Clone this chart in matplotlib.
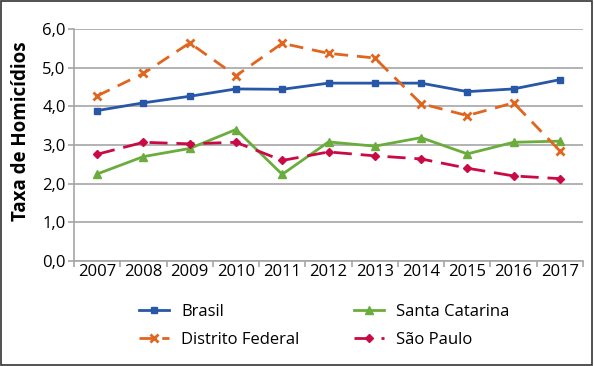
import matplotlib.pyplot as plt
from matplotlib.patches import Rectangle
from matplotlib.ticker import FuncFormatter

plt.rcParams['font.family'] = ['Open Sans', 'DejaVu Sans']

anos = ['2007', '2008', '2009', '2010', '2011', '2012',
        '2013', '2014', '2015', '2016', '2017']
brasil = [3.89, 4.09, 4.26, 4.45, 4.44, 4.60, 4.60, 4.60, 4.38, 4.45, 4.69]
distrito_federal = [4.27, 4.85, 5.64, 4.79, 5.63, 5.37, 5.25, 4.07, 3.76, 4.09, 2.85]
santa_catarina = [2.25, 2.70, 2.91, 3.40, 2.24, 3.08, 2.97, 3.19, 2.77, 3.07, 3.10]
sao_paulo = [2.76, 3.07, 3.03, 3.07, 2.60, 2.82, 2.72, 2.64, 2.40, 2.20, 2.13]

AZUL = '#2757a6'
LARANJA = '#e0661f'
VERDE = '#6aad3d'
VERMELHO = '#c90a45'
CINZA = '#a6a6a6'

fig = plt.figure(figsize=(5.94, 3.66), dpi=100)
ax = fig.add_axes([74 / 594, 1 - 261 / 366, 509 / 594, 232 / 366])

x = range(len(anos))
lw = 2.0
ax.plot(x, brasil, color=AZUL, lw=lw, marker='s', ms=5, label='Brasil')
ax.plot(x, santa_catarina, color=VERDE, lw=lw, marker='^', ms=5.5, label='Santa Catarina')
ax.plot(x, distrito_federal, color=LARANJA, lw=lw, marker='x', ms=6, mew=2,
        dashes=(5, 3.2), label='Distrito Federal')
ax.plot(x, sao_paulo, color=VERMELHO, lw=lw, marker='D', ms=4.5,
        dashes=(6.5, 3.2), label='São Paulo')

ax.set_xlim(-0.5, len(anos) - 0.5)
ax.set_ylim(0, 6)
ax.set_yticks([0, 1, 2, 3, 4, 5, 6])
ax.yaxis.set_major_formatter(FuncFormatter(lambda v, p: f'{v:.1f}'.replace('.', ',')))
ax.yaxis.grid(True, color=CINZA, lw=1.2)
ax.set_axisbelow(True)

# ticks nas fronteiras das categorias, rótulos no centro
ax.set_xticks([i - 0.5 for i in range(len(anos) + 1)])
ax.set_xticklabels([])
ax.set_xticks(list(x), minor=True)
ax.set_xticklabels(anos, minor=True)
ax.tick_params(axis='x', which='minor', length=0, pad=2, labelsize=12)
ax.tick_params(axis='x', which='major', length=4, width=1.2, color=CINZA)
ax.tick_params(axis='y', length=4, width=1.2, color=CINZA, labelsize=12, pad=2)

for s in ['top', 'right']:
    ax.spines[s].set_visible(False)
for s in ['left', 'bottom']:
    ax.spines[s].set_color(CINZA)
    ax.spines[s].set_linewidth(1.2)

ax.set_ylabel('Taxa de Homicídios', fontsize=13.5, fontweight='bold')
ax.yaxis.set_label_coords(-0.084, 0.56)

handles, labels = ax.get_legend_handles_labels()
order = [0, 2, 1, 3]
fig.legend([handles[i] for i in order], [labels[i] for i in order],
           ncol=2, frameon=False, fontsize=12,
           loc='center left', bbox_to_anchor=(124 / 594, 1 - 326 / 366),
           handlelength=1.8, handletextpad=0.72, columnspacing=3.3,
           labelspacing=0.72)

fig.patches.append(Rectangle((0.002, 0.003), 0.995, 0.994, transform=fig.transFigure,
                             fill=False, edgecolor='#333333', lw=1.2))

fig.savefig('out.png', dpi=100)
